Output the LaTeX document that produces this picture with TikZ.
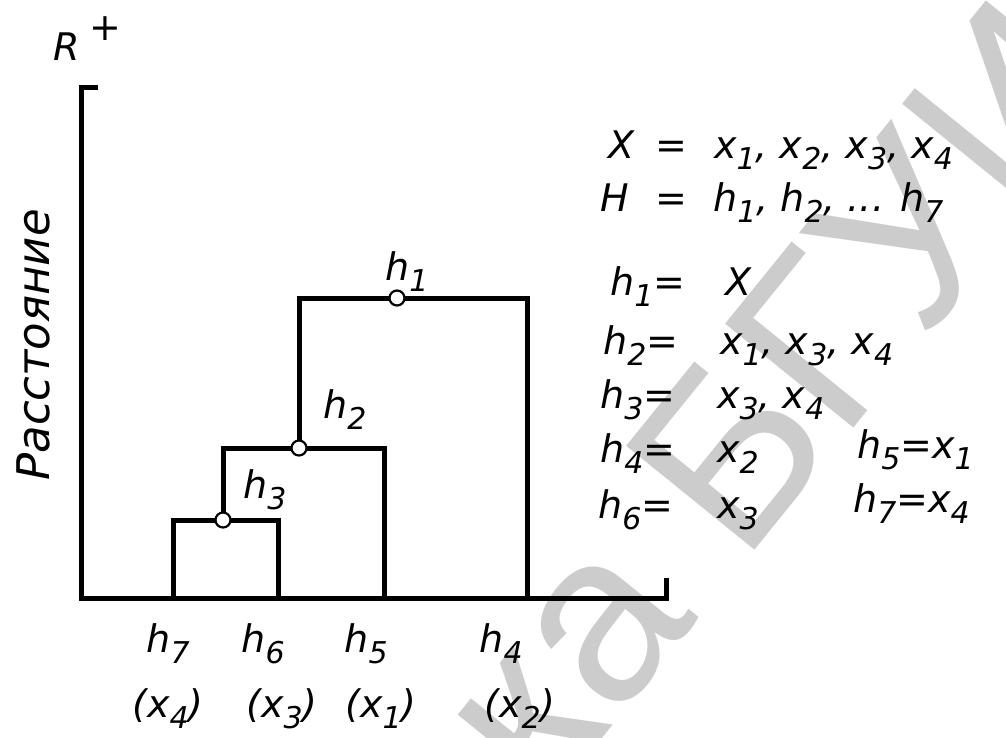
\documentclass[tikz,border=0pt]{standalone}
\usepackage{fontspec}
\setmainfont{DejaVu Sans}
\newfontfamily\wmfont{Liberation Sans}
\newcommand\ix[1]{\raisebox{-11pt}{\fontsize{30}{30}\selectfont #1}}
\newcommand\txtfont{\fontsize{38}{40}\selectfont\itshape}
\begin{document}
\begin{tikzpicture}[x=1pt,y=1pt,
  lbl/.style={font=\txtfont, inner sep=0pt, anchor=base west},
  clbl/.style={font=\txtfont, inner sep=0pt, anchor=base},
  dline/.style={line width=5pt, line join=miter},
  axisline/.style={line width=5pt, line join=miter},
  joint/.style={circle, draw, fill=white, line width=2.2pt, inner sep=0pt, minimum size=15pt},
  wm/.style={font=\wmfont\fontsize{240}{240}\selectfont, text=black!20, inner sep=0pt, rotate=51}
]
\useasboundingbox (0,0) rectangle (1006,-737);
% watermark
\begin{scope}
\clip (0,0) rectangle (1006,-737);
\node[wm, anchor=base west] (wm2) at (742,-566) {БГУИР};
\node[wm, anchor=base east] (wm1) at (700,-618) {Библиотека};
\end{scope}
% axes
\coordinate (o) at (81,-598);
\coordinate (ytop) at (81,-87);
\coordinate (ytick) at (98,-87);
\coordinate (xend) at (666,-598);
\coordinate (xtick) at (666,-578);
\draw[axisline] (ytick) -- (ytop) -- (o) -- (xend) -- (xtick);
% dendrogram
\coordinate (l7) at (173,-598);
\coordinate (l6) at (278,-598);
\coordinate (l5) at (384,-598);
\coordinate (l4) at (527,-598);
\coordinate (c3) at (223,-520);
\coordinate (c2) at (299,-448);
\coordinate (c1) at (397,-298);
\draw[dline] (l7) |- (c3) -| (l6);
\draw[dline] (c3) |- (c2) -| (l5);
\draw[dline] (c2) |- (c1) -| (l4);
\node[joint] (j3) at (c3) {};
\node[joint] (j2) at (c2) {};
\node[joint] (j1) at (c1) {};
\node[lbl] (t1) at (385,-280) {h\ix1};
\node[lbl] (t2) at (323,-418) {h\ix2};
\node[lbl] (t3) at (243,-498) {h\ix3};
% axis labels
\node[lbl] (R) at (53,-60) {R\hspace{10pt}\raisebox{20pt}{+}};
\node[font=\fontsize{45}{47}\selectfont\itshape, inner sep=0pt, rotate=90, anchor=base] (dist) at (49,-345) {Расстояние};
% leaf labels
\node[clbl] (b7) at (168,-652) {h\ix7};
\node[clbl] (b6) at (263,-652) {h\ix6};
\node[clbl] (b5) at (366,-652) {h\ix5};
\node[clbl] (b4) at (501,-652) {h\ix4};
\node[clbl] (p4) at (168,-717) {(x\ix4)};
\node[clbl] (p3) at (282,-717) {(x\ix3)};
\node[clbl] (p1) at (381,-717) {(x\ix1)};
\node[clbl] (p2) at (520,-717) {(x\ix2)};
% definitions
\node[lbl] (Xa) at (608,-158) {X};
\node[lbl] (Xb) at (655,-158) {=};
\node[lbl] (Xc) at (714,-158) {x\ix1, x\ix2, x\ix3, x\ix4};
\node[lbl] (Ha) at (600,-211) {H};
\node[lbl] (Hb) at (655,-211) {=};
\node[lbl] (Hc) at (713,-211) {h\ix1, h\ix2, ... h\ix7};
\node[lbl] (r1l) at (610,-295) {h\ix1=};
\node[lbl] (r1r) at (725,-295) {X};
\node[lbl] (r2l) at (603,-354) {h\ix2=};
\node[lbl] (r2r) at (720,-354) {x\ix1, x\ix3, x\ix4};
\node[lbl] (r3l) at (600,-408) {h\ix3=};
\node[lbl] (r3r) at (717,-408) {x\ix3, x\ix4};
\node[lbl] (r4l) at (600,-462) {h\ix4=};
\node[lbl] (r4r) at (717,-462) {x\ix2};
\node[lbl] (r6l) at (598,-518) {h\ix6=};
\node[lbl] (r6r) at (717,-518) {x\ix3};
\node[lbl] (r5) at (857,-458) {h\ix5=x\ix1};
\node[lbl] (r7) at (853,-512) {h\ix7=x\ix4};
\end{tikzpicture}
\end{document}
